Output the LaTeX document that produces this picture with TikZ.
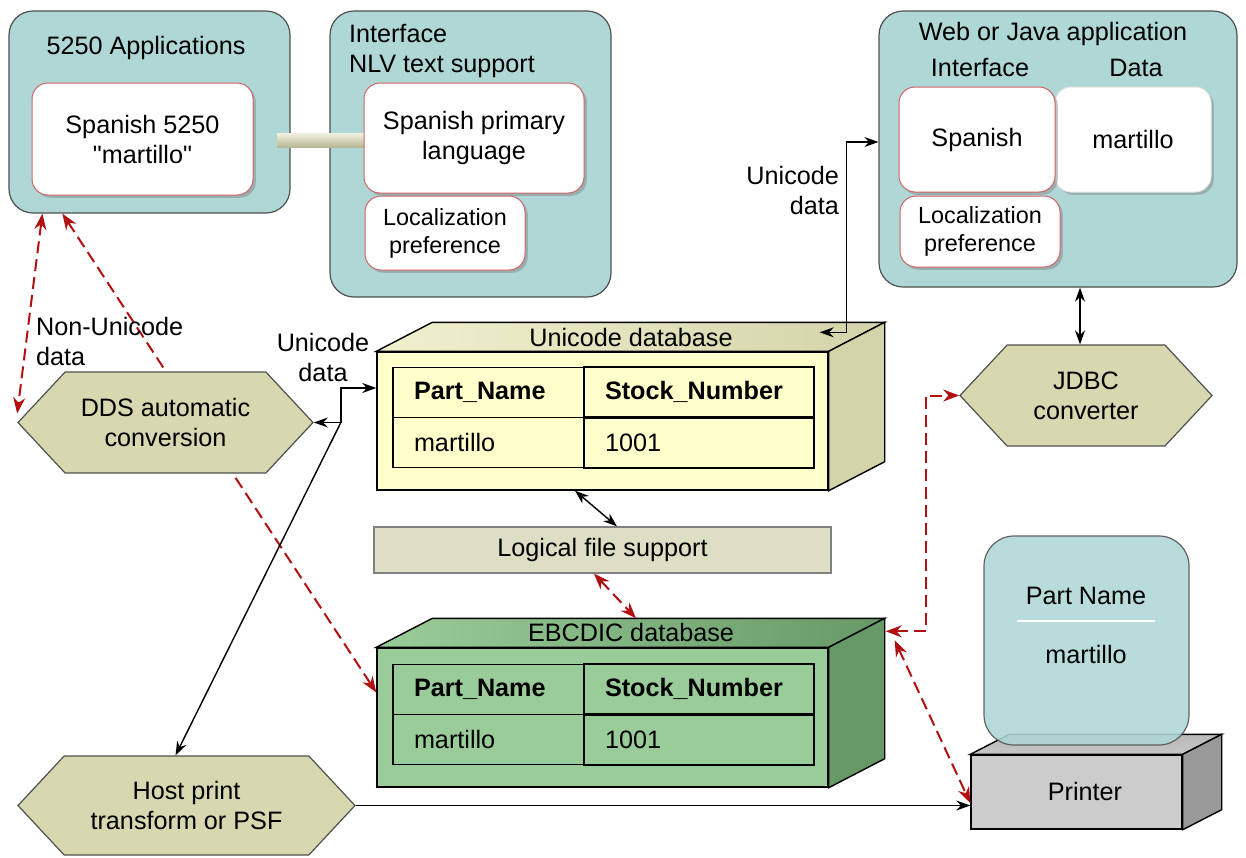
\documentclass[tikz,border=0pt]{standalone}
\usepackage{fontspec}
\setmainfont{Liberation Sans}
\usetikzlibrary{arrows.meta,shapes.symbols,shadows,matrix,calc}

\definecolor{tealfill}{RGB}{174,215,214}
\definecolor{khaki}{RGB}{216,216,176}
\definecolor{unifront}{RGB}{255,255,204}
\definecolor{unitop}{RGB}{240,240,206}
\definecolor{uniside}{RGB}{212,212,170}
\definecolor{ebcfront}{RGB}{153,204,153}
\definecolor{ebcside}{RGB}{102,153,102}
\definecolor{logfill}{RGB}{222,222,196}
\definecolor{darkred}{RGB}{178,16,16}
\definecolor{pinkline}{RGB}{206,100,100}
\definecolor{edgegray}{RGB}{80,80,80}

% straight double quote, kept out of the TeX ligature mapping
\newcommand\dq{\XeTeXglyph\XeTeXcharglyph"22\relax}

\tikzset{
  tealbox/.style={draw=edgegray, fill=tealfill, rounded corners=12pt, line width=0.6pt},
  whitebox/.style={draw=pinkline, fill=white, rounded corners=8pt, line width=0.5pt,
    drop shadow={opacity=0.45, shadow xshift=1.4pt, shadow yshift=-1.4pt}, align=center},
  smalltext/.style={font=\fontsize{11.7}{14}\selectfont},
  hexbox/.style={signal, signal to=west and east, signal pointer angle=94, draw=edgegray,
    fill=khaki, line width=0.6pt, align=center, inner sep=0pt},
  dbface/.style={draw=black, line width=0.7pt},
  cell/.style={draw=black, line width=0.7pt, align=left, inner xsep=10.5pt, minimum height=25pt},
  redlink/.style={darkred, dash pattern=on 6pt off 3pt, line width=1pt,
    {Stealth[length=8pt,width=6pt]}-{Stealth[length=8pt,width=6pt]}},
  blacklink/.style={black, line width=0.7pt, -{Stealth[length=7pt,width=5pt]}},
  bothlink/.style={black, line width=0.7pt, {Stealth[length=7pt,width=5pt]}-{Stealth[length=7pt,width=5pt]}},
}

\begin{document}
\begin{tikzpicture}[x=0.5pt, y=-0.5pt, font=\fontsize{12.6}{15}\selectfont]
\useasboundingbox (0,0) rectangle (1246,857);

% 5250 applications and interface
\node[tealbox, minimum width=140.5pt, minimum height=101pt] (apps) at (149.5,112) {};
\node (appstitle) at (146,48) {5250 Applications};
\node[tealbox, minimum width=140.5pt, minimum height=143pt] (iface) at (470.5,154) {};
\node[anchor=west] (ifacet) at (342,34) {Interface};
\node[anchor=west] (nlvt) at (342,66) {NLV text support};
\node[top color=khaki!35!white, bottom color=khaki!85!black, minimum width=43.5pt,
  minimum height=7pt, inner sep=0pt] (bar) at (320.5,140) {};
\node[whitebox, minimum width=110.5pt, minimum height=56pt] (sp5250) at (142.5,139) {Spanish 5250\\\dq martillo\dq};
\node[whitebox, minimum width=110pt, minimum height=55pt] (splang) at (474,138) {Spanish primary\\language};
\node[whitebox, smalltext, minimum width=80pt, minimum height=37pt] (loca) at (445,233) {Localization\\preference};

% web or java application
\node[tealbox, minimum width=179pt, minimum height=138pt] (web) at (1058,149) {};
\node (webt) at (1053,34) {Web or Java application};
\node (webif) at (980,68) {Interface};
\node (webdata) at (1136,68) {Data};
\node[whitebox, draw=gray!20, minimum width=78pt, minimum height=52.5pt] (mtw) at (1133,139.5) {martillo};
\node[whitebox, minimum width=78pt, minimum height=52.5pt] (spw) at (977,139.5) {Spanish};
\node[whitebox, smalltext, minimum width=80pt, minimum height=35.5pt] (locw) at (980,231.5) {Localization\\preference};

% unicode database
\node[dbface, fill=unifront, minimum width=225.5pt, minimum height=69pt, inner sep=0pt] (udb) at (602.5,421) {};
\draw[dbface, left color=unitop, right color=uniside] (udb.north west) -- ++(56,-29)
  -- ($(udb.north east)+(56,-29)$) -- (udb.north east) -- cycle;
\draw[dbface, fill=uniside] (udb.north east) -- ++(56,-29)
  -- ($(udb.south east)+(56,-29)$) -- (udb.south east) -- cycle;
\node (udbt) at (631,337) {Unicode database};
\matrix (utab) at (603.5,417.5) [matrix of nodes, column sep=-0.7pt, row sep=-0.7pt, nodes={cell},
  column 1/.style={nodes={text width=74.5pt}}, column 2/.style={nodes={text width=94pt}}]
{ \textbf{Part\_Name} & \textbf{Stock\_Number} \\ martillo & 1001 \\ };

% logical file support
\node[draw=gray, fill=logfill, line width=0.6pt, minimum width=228.5pt, minimum height=23pt] (lfs) at (602.5,550) {Logical file support};

% ebcdic database
\node[dbface, fill=ebcfront, minimum width=225.5pt, minimum height=69.5pt, inner sep=0pt] (edb) at (602.5,717.5) {};
\draw[dbface, left color=ebcfront, right color=ebcside] (edb.north west) -- ++(56,-29)
  -- ($(edb.north east)+(56,-29)$) -- (edb.north east) -- cycle;
\draw[dbface, fill=ebcside] (edb.north east) -- ++(56,-29)
  -- ($(edb.south east)+(56,-29)$) -- (edb.south east) -- cycle;
\node (edbt) at (631,632) {EBCDIC database};
\matrix (etab) at (603.5,714.5) [matrix of nodes, column sep=-0.7pt, row sep=-0.7pt, nodes={cell},
  column 1/.style={nodes={text width=74.5pt}}, column 2/.style={nodes={text width=94pt}}]
{ \textbf{Part\_Name} & \textbf{Stock\_Number} \\ martillo & 1001 \\ };

% printer
\node[draw=black, fill=gray!40, line width=0.7pt, minimum width=105.5pt, minimum height=37pt] (prn) at (1076.5,792) {};
\draw[dbface, top color=gray!55, bottom color=gray!45] (prn.north west) -- ++(39,-20)
  -- ($(prn.north east)+(39,-20)$) -- (prn.north east) -- cycle;
\draw[dbface, fill=gray!80!white] (prn.north east) -- ++(39,-20)
  -- ($(prn.south east)+(39,-20)$) -- (prn.south east) -- cycle;
\node (prnt) at (1085,791) {Printer};
\node[draw=edgegray, fill=tealfill, opacity=0.88, rounded corners=15pt, line width=0.6pt,
  minimum width=102.5pt, minimum height=104.5pt] (pcard) at (1086.5,640.5) {};
\node (pname) at (1086,596) {Part Name};
\draw[white, line width=1pt] ($(pcard.center)+(-70,-19.5)$) -- ($(pcard.center)+(68,-19.5)$);
\node (pval) at (1086,654) {martillo};

% connectors
\draw[redlink] ([xshift=27pt]apps.south west) -- ([yshift=12.5pt]edb.west);

\node[hexbox, minimum width=147.5pt, minimum height=50.5pt] (dds) at (165.5,422.5) {DDS automatic\\conversion};
\node[hexbox, minimum width=126pt, minimum height=50.5pt] (jdbc) at (1086,395.5) {JDBC\\converter};
\node[hexbox, minimum width=168.5pt, minimum height=49.5pt] (hpt) at (186.5,805.5) {Host print\\transform or PSF};

\node[anchor=west, align=left] (nonuni) at (29,341) {Non-Unicode\\data};
\node[align=center] (unilbl) at (323,357) {Unicode\\data};
\node[anchor=east, align=right] (unilblw) at (846,190) {Unicode\\data};

\draw[redlink] ([xshift=17pt]apps.south west) -- ([yshift=4.5pt]dds.west);

\coordinate (jn) at ($(dds.east)+(27,0)$);
\draw[blacklink] (jn) -- (dds.east);
\draw[blacklink] (jn) |- ([yshift=16.5pt]udb.west);
\draw[blacklink] (jn) -- ([xshift=-5.5pt]hpt.north);

\coordinate (utop) at ($(udb.north east)+(-9,-19)$);
\draw[bothlink] (utop) -- ++(27,0) |- ([yshift=3.5pt]web.west);

\coordinate (jtop) at ([xshift=-3pt]jdbc.north);
\draw[bothlink] (jtop |- web.south) -- (jtop);

\draw[bothlink] ([xshift=-13.75pt]udb.south) -- ([xshift=7.25pt]lfs.north);

\coordinate (etop) at ($(edb.north)+(33.5,-29)$);
\draw[redlink] ([xshift=-4.25pt]lfs.south) -- (etop);

\coordinate (eside) at ($(edb.north east)+(57,-16)$);
\draw[redlink] (eside) -- ++(40,0) |- (jdbc.west);

\coordinate (eside2) at ($(edb.north east)+(66,-7)$);
\draw[redlink] (eside2) -- ([yshift=-5.5pt]prn.west);

\draw[blacklink] (hpt.east) -- (hpt.east -| prn.west);
\end{tikzpicture}
\end{document}
